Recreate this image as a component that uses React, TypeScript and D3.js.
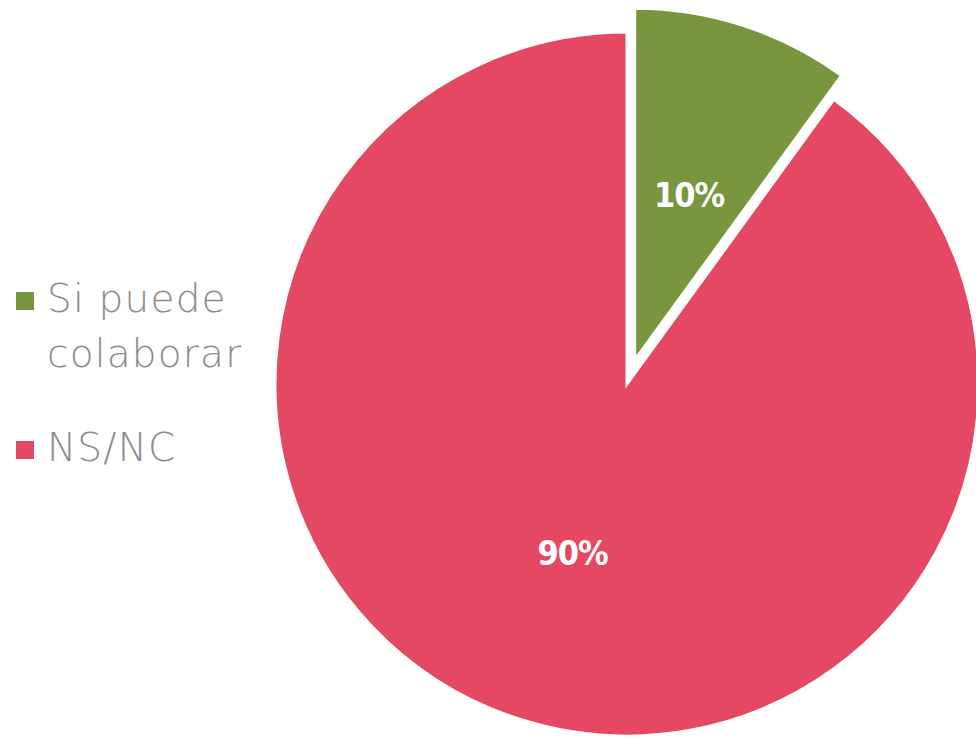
import React from "react";
import * as d3 from "d3";

const categories = ["Si puede colaborar", "NS/NC"];
const values = [10, 90];
const labels = ["10%", "90%"];
const legendLines = [["Si puede", "colaborar"], ["NS/NC"]];
const colors = ["#77963E", "#E54862"];
const explode = [25, 0];

export default function App() {
  const W = 976, H = 738;
  const cx = 627, cy = 384, r = 352;
  const pie = d3.pie<number>().sort(null).value((d) => d)(values);
  const arc = d3.arc<d3.PieArcDatum<number>>().innerRadius(0).outerRadius(r);
  const labelArc = d3.arc<d3.PieArcDatum<number>>().innerRadius(r * 0.5).outerRadius(r * 0.5);

  return (
    <svg width={W} height={H} style={{ position: "absolute", left: 0, top: 0, display: "block" }}>
      <rect width={W} height={H} fill="#fff" />
      <g transform={`translate(${cx},${cy})`}>
        {pie.map((p, i) => {
          const mid = (p.startAngle + p.endAngle) / 2;
          const dx = Math.sin(mid) * explode[i];
          const dy = -Math.cos(mid) * explode[i];
          const [lx, ly] = labelArc.centroid(p);
          return (
            <g key={i} transform={`translate(${dx},${dy})`}>
              <path d={arc(p) || ""} fill={colors[i]} stroke="#fff" strokeWidth={3} strokeLinejoin="miter" />
              <text
                x={lx}
                y={ly + 2}
                textAnchor="middle"
                dominantBaseline="central"
                fill="#fff"
                fontFamily="'DejaVu Sans Condensed', 'DejaVu Sans', sans-serif"
                fontWeight="bold"
                fontSize={34}
                letterSpacing={-1}
              >
                {labels[i]}
              </text>
            </g>
          );
        })}
      </g>
      <g>
        {categories.map((c, i) => {
          const y0 = i === 0 ? 312 : 461;
          return (
            <g key={c}>
              <rect x={16} y={y0 - 20} width={18} height={18} fill={colors[i]} />
              {legendLines[i].map((ln, j) => (
                <text
                  key={j}
                  x={47}
                  y={y0 + j * 55}
                  fill="#8C8C8C"
                  fontFamily="'DejaVu Sans', sans-serif"
                  fontWeight={200}
                  fontSize={39}
                  letterSpacing={1.2}
                >
                  {ln}
                </text>
              ))}
            </g>
          );
        })}
      </g>
    </svg>
  );
}
